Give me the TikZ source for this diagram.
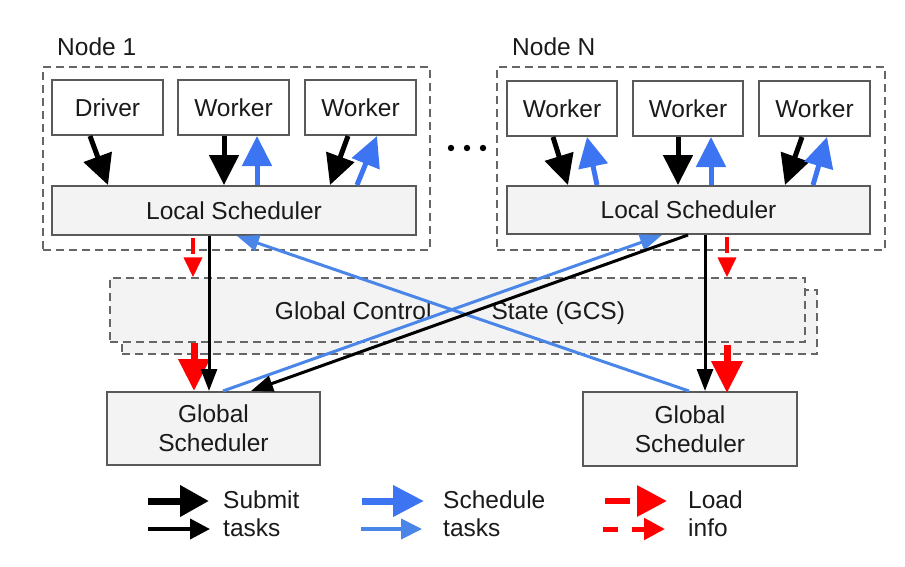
\documentclass[tikz,border=0pt]{standalone}
\usepackage{fontspec}
\setmainfont{Liberation Sans}
\usetikzlibrary{arrows.meta}
\definecolor{boxline}{HTML}{595959}
\definecolor{dashline}{HTML}{666666}
\definecolor{boxfill}{HTML}{F3F3F3}
\definecolor{bluethick}{HTML}{3D74F2}
\definecolor{bluethin}{HTML}{4A86E8}
\definecolor{txt}{HTML}{1A1A1A}
\begin{document}
\begin{tikzpicture}[x=1pt,y=-1pt,
  every node/.style={font=\fontsize{24.5pt}{29pt}\selectfont, text=txt, inner sep=0pt},
  procbox/.style={draw=boxline, line width=2pt, fill=white, minimum width=111pt, minimum height=55pt},
  schedbox/.style={draw=boxline, line width=2pt, fill=boxfill},
  nodegroup/.style={draw=dashline, line width=1.5pt, dash pattern=on 8pt off 5pt},
  submitthick/.style={draw=black, line width=5pt, -{Triangle[length=30pt,width=29pt]}},
  schedthick/.style={draw=bluethick, line width=5pt, -{Triangle[length=30pt,width=29pt]}},
  submitthin/.style={draw=black, line width=3pt, -{Triangle[length=22pt,width=16pt]}},
  schedthin/.style={draw=bluethin, line width=3pt, -{Triangle[length=22pt,width=16pt]}},
  loadthick/.style={draw=red, line width=7pt, -{Triangle[length=32pt,width=30pt]}},
  loadthin/.style={draw=red, line width=4pt, dash pattern=on 16pt off 8pt, -{Triangle[length=20pt,width=18pt]}},
]
\useasboundingbox (0,0) rectangle (905,566);

% node groups
\node[nodegroup, minimum width=387pt, minimum height=183pt] (n1) at (236.5,158.5) {};
\node[nodegroup, minimum width=388pt, minimum height=183pt] (nN) at (691,158.5) {};
\node[anchor=west] (n1lab) at (57,47) {Node 1};
\node[anchor=west] (nNlab) at (512,47) {Node N};

% node 1 contents
\node[procbox] (d1) at (107.5,107.5) {Driver};
\node[procbox] (w11) at (233.5,107.5) {Worker};
\node[procbox] (w12) at (360.5,107.5) {Worker};
\node[schedbox, minimum width=364pt, minimum height=49pt] (ls1) at (234,210.5) {Local Scheduler};

% node N contents
\node[procbox, minimum width=110pt] (wN1) at (562,108.5) {Worker};
\node[procbox, minimum width=110pt] (wN2) at (688,108.5) {Worker};
\node[procbox] (wN3) at (814.5,108.5) {Worker};
\node[schedbox, minimum width=363pt, minimum height=48pt] (lsN) at (688.5,210) {Local Scheduler};

% dots
\fill[black] (451,148) circle (3.2pt) (467,148) circle (3.2pt) (483,148) circle (3.2pt);

% GCS
\node[nodegroup, fill=boxfill, minimum width=695pt, minimum height=64pt] (gcsback) at (469.5,322) {};
\node[nodegroup, fill=boxfill, minimum width=695pt, minimum height=64pt] (gcs) at (457.5,310) {};
\node (gcstext) at (450,313) {Global Control\hspace*{60pt}State (GCS)};

% global schedulers
\node[schedbox, minimum width=213pt, minimum height=73pt, align=center] (gs1) at (213.5,428.5) {Global\\Scheduler};
\node[schedbox, minimum width=214pt, minimum height=74pt, align=center] (gs2) at (690,429) {Global\\Scheduler};

% node 1 arrows
\draw[submitthick] ([xshift=-17.5pt]d1.south) -- ([xshift=-126pt]ls1.north);
\draw[submitthick] ([xshift=-9.5pt]w11.south) -- ([xshift=-10pt]ls1.north);
\draw[schedthick] ([xshift=23pt]ls1.north) -- ([xshift=23.5pt]w11.south);
\draw[submitthick] ([xshift=-12.5pt]w12.south) -- ([xshift=96pt]ls1.north);
\draw[schedthick] ([xshift=123pt]ls1.north) -- ([xshift=16.5pt]w12.south);

% node N arrows
\draw[submitthick] ([xshift=-9pt]wN1.south) -- ([xshift=-120.5pt]lsN.north);
\draw[schedthick] ([xshift=-91.5pt]lsN.north) -- ([xshift=25pt]wN1.south);
\draw[submitthick] ([xshift=-10pt]wN2.south) -- ([xshift=-10.5pt]lsN.north);
\draw[schedthick] ([xshift=22.5pt]lsN.north) -- ([xshift=23pt]wN2.south);
\draw[submitthick] ([xshift=-12.5pt]wN3.south) -- ([xshift=96.5pt]lsN.north);
\draw[schedthick] ([xshift=124.5pt]lsN.north) -- ([xshift=12.5pt]wN3.south);

% load info
\draw[loadthin] ([xshift=-41pt,yshift=-2pt]ls1.south) -- ([xshift=-264.5pt]gcs.north);
\draw[loadthin] ([xshift=38.5pt,yshift=-2pt]lsN.south) -- ([xshift=269.5pt]gcs.north);
\draw[loadthick] ([xshift=-263.5pt]gcs.south) -- ([xshift=-19.5pt]gs1.north);
\draw[loadthick] ([xshift=269.5pt,yshift=-2pt]gcs.south) -- ([xshift=37pt,yshift=-2pt]gs2.north);

% vertical submit
\draw[submitthin] ([xshift=-25pt]ls1.south) -- ([xshift=-4.5pt]gs1.north);
\draw[submitthin] ([xshift=16.5pt]lsN.south) -- ([xshift=15pt]gs2.north);

% crossing
\draw[schedthin] ([xshift=-1pt]gs2.north) -- ([xshift=3pt]ls1.south);
\draw[schedthin] ([xshift=9.5pt]gs1.north) -- ([xshift=-26.5pt]lsN.south);
\draw[submitthin] ([xshift=-0.5pt]lsN.south) -- ([xshift=37.5pt]gs1.north);

% legend
\coordinate (lg1a) at (148,501); \coordinate (lg1b) at (209,501);
\coordinate (lg2a) at (148,529); \coordinate (lg2b) at (210,529);
\coordinate (lg3a) at (362,501); \coordinate (lg3b) at (424,501);
\coordinate (lg4a) at (361,529); \coordinate (lg4b) at (422,529);
\coordinate (lg5a) at (605,501); \coordinate (lg5b) at (667,501);
\coordinate (lg6a) at (603,529); \coordinate (lg6b) at (665,529);
\draw[submitthick, line width=7pt, -{Triangle[length=29pt,width=30pt]}] (lg1a) -- (lg1b);
\draw[submitthin, line width=4pt, -{Triangle[length=20pt,width=20pt]}] (lg2a) -- (lg2b);
\draw[schedthick, line width=7pt, -{Triangle[length=31pt,width=30pt]}] (lg3a) -- (lg3b);
\draw[schedthin, line width=4pt, -{Triangle[length=21pt,width=20pt]}] (lg4a) -- (lg4b);
\draw[loadthick, line width=6pt, dash pattern=on 25pt off 8pt, -{Triangle[length=30pt,width=30pt]}] (lg5a) -- (lg5b);
\draw[loadthin, line width=5pt, dash pattern=on 15pt off 14pt, -{Triangle[length=21pt,width=21pt]}] (lg6a) -- (lg6b);
\node[anchor=west] (lt1) at (223,500) {Submit};
\node[anchor=west] (lt2) at (223,528) {tasks};
\node[anchor=west] (lt3) at (443,500) {Schedule};
\node[anchor=west] (lt4) at (443,528) {tasks};
\node[anchor=west] (lt5) at (688,500) {Load};
\node[anchor=west] (lt6) at (688,528) {info};
\end{tikzpicture}
\end{document}
